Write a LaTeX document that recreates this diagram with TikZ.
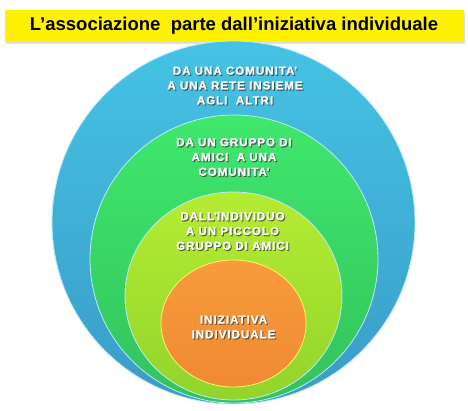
\documentclass[tikz,border=0pt]{standalone}
\usepackage{fontspec}
\setmainfont{Liberation Sans}
\newfontfamily\ringfont[LetterSpace=9, FakeBold=1.5]{Liberation Sans Bold}
\usetikzlibrary{shapes.geometric,shadows}

\definecolor{bluetop}{HTML}{45C3E4}
\definecolor{bluebot}{HTML}{3A9CC6}
\definecolor{greentop}{HTML}{3FE86C}
\definecolor{greenbot}{HTML}{33C25E}
\definecolor{limetop}{HTML}{B4EC32}
\definecolor{limebot}{HTML}{92D42C}
\definecolor{orangetop}{HTML}{F79B3C}
\definecolor{orangebot}{HTML}{F08A32}

\newcommand\ringlabel[3]{%
  \node (#1-s) [ringshadow] at (#2) {#3};
  \node (#1) [ringtext] at (#2) {#3};}

\begin{document}
\begin{tikzpicture}[
  x = 1pt, y = -1pt,
  ring/.style = {ellipse, draw = white!75!cyan, line width = 0.8pt},
  ringtext/.style = {font = \ringfont\fontsize{11.5}{14.8}\selectfont,
                     align = center, text = white},
  ringshadow/.style = {ringtext, text = black!80, opacity = 0.7,
                       xshift = 1pt, yshift = -1.1pt},
  titlebar/.style = {fill = yellow, minimum width = 459pt, minimum height = 32pt,
                     drop shadow = {opacity = 0.25, shadow xshift = 1pt, shadow yshift = -1.5pt},
                     font = \bfseries\fontsize{18.5}{20}\selectfont}
]
\useasboundingbox (0,0) rectangle (468,410);

\node (titolo) [titlebar] at (234,26) {L’associazione\ \ parte dall’iniziativa individuale};

\node (rete) [ring, minimum width = 363pt, minimum height = 363pt,
  top color = bluetop, bottom color = bluebot] at (233.5,222.5) {};
\node (comunita) [ring, minimum width = 288pt, minimum height = 288pt,
  top color = greentop, bottom color = greenbot] at (234,259) {};
\node (gruppo) [ring, minimum width = 217pt, minimum height = 208pt,
  top color = limetop, bottom color = limebot] at (233.5,296) {};
\node (individuo) [ring, draw = yellow!60!white, minimum width = 145pt, minimum height = 127pt,
  top color = orangetop, bottom color = orangebot] at (233.5,323.5) {};

\ringlabel{t-rete}{235,85.5}{DA UNA COMUNITA\textquotesingle\\A UNA RETE INSIEME\\AGLI\ \ ALTRI}
\ringlabel{t-comunita}{234,157}{DA UN GRUPPO DI\\AMICI\ \ A UNA\\COMUNITA\textquotesingle}
\ringlabel{t-gruppo}{232.5,231}{DALL\textquotesingle INDIVIDUO\\A UN PICCOLO\\GRUPPO DI AMICI}
\ringlabel{t-individuo}{233.5,327}{INIZIATIVA\\INDIVIDUALE}

\end{tikzpicture}
\end{document}
